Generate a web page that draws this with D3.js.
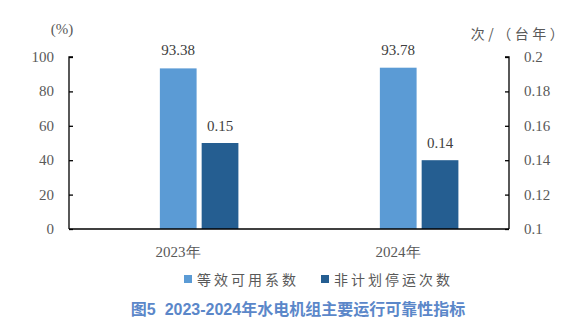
<!DOCTYPE html>
<html>
<head>
<meta charset="utf-8">
<script src="https://cdn.jsdelivr.net/npm/d3@7"></script>
<style>
  html, body { margin: 0; padding: 0; background: #fff; }
  svg { display: block; }
</style>
</head>
<body>
<svg id="chart" width="585" height="335"></svg>
<script>
// Hydropower unit reliability indicators, 2023–2024
const categories = ["2023年", "2024年"];
const availability = [93.38, 93.78];      // 等效可用系数 (%)
const outages = [0.15, 0.14];             // 非计划停运次数 次/(台年)
const leftTicks = [0, 20, 40, 60, 80, 100];
const rightTicks = [0.1, 0.12, 0.14, 0.16, 0.18, 0.2];
const seriesNames = ["等效可用系数", "非计划停运次数"];
const colors = ["#5b9bd5", "#255e91"];

const svg = d3.select("#chart");
const plotL = 69, plotR = 509, plotT = 57, plotB = 229;
const numFont = "'Liberation Serif', 'DejaVu Serif', serif";
const cjkFont = "'Noto Sans CJK SC', sans-serif";
const textColor = "#595959";

const x = d3.scaleBand().domain(categories).range([plotL, plotR]);
const yL = d3.scaleLinear().domain([0, 100]).range([plotB, plotT]);
const yR = d3.scaleLinear().domain([0.1, 0.2]).range([plotB, plotT]);

// bar placement within each category band
const bw = x.bandwidth();
const barW = bw * 0.167;
const lightOff = bw * 0.413;
const darkOff = bw * 0.603;

// bars
svg.selectAll("rect.avail").data(availability).join("rect")
  .attr("class", "avail")
  .attr("x", (d, i) => x(categories[i]) + lightOff)
  .attr("y", d => yL(d))
  .attr("width", barW)
  .attr("height", d => plotB - yL(d))
  .attr("fill", colors[0]);

svg.selectAll("rect.outage").data(outages).join("rect")
  .attr("class", "outage")
  .attr("x", (d, i) => x(categories[i]) + darkOff)
  .attr("y", d => yR(d))
  .attr("width", barW)
  .attr("height", d => plotB - yR(d))
  .attr("fill", colors[1]);

// value labels
svg.selectAll("text.lblA").data(availability).join("text")
  .attr("class", "lblA")
  .attr("x", (d, i) => x(categories[i]) + lightOff + barW / 2)
  .attr("y", d => yL(d) - 13)
  .attr("text-anchor", "middle")
  .attr("font-family", numFont).attr("font-size", 15).attr("fill", "#404040")
  .text(d => d.toFixed(2));

svg.selectAll("text.lblO").data(outages).join("text")
  .attr("class", "lblO")
  .attr("x", (d, i) => x(categories[i]) + darkOff + barW / 2)
  .attr("y", d => yR(d) - 12)
  .attr("text-anchor", "middle")
  .attr("font-family", numFont).attr("font-size", 15).attr("fill", "#404040")
  .text(d => d.toFixed(2));

// left axis
const axL = svg.append("g").attr("transform", `translate(${plotL},0)`)
  .call(d3.axisRight(yL).tickValues(leftTicks).tickSize(4).tickFormat(d3.format("d")));
axL.selectAll("text").remove();
axL.selectAll("path, line").attr("stroke", "#000").attr("stroke-width", 1.3);
axL.select("path").attr("d", `M4,${plotT}H0V${plotB}`);
svg.selectAll("text.tl").data(leftTicks).join("text")
  .attr("class", "tl")
  .attr("x", plotL - 15).attr("y", d => yL(d) + 5)
  .attr("text-anchor", "end")
  .attr("font-family", numFont).attr("font-size", 15).attr("fill", textColor)
  .text(d => d);

// right axis
const axR = svg.append("g").attr("transform", `translate(${plotR},0)`)
  .call(d3.axisLeft(yR).tickValues(rightTicks).tickSize(4));
axR.selectAll("text").remove();
axR.selectAll("path, line").attr("stroke", "#000").attr("stroke-width", 1.3);
axR.select("path").attr("d", `M-4,${plotT}H0V${plotB}`);
svg.selectAll("text.tr").data(rightTicks).join("text")
  .attr("class", "tr")
  .attr("x", plotR + 15).attr("y", d => yR(d) + 5)
  .attr("text-anchor", "start")
  .attr("font-family", numFont).attr("font-size", 15).attr("fill", textColor)
  .text(d => d3.format("~g")(d));

// baseline
svg.append("line")
  .attr("x1", plotL).attr("x2", plotR).attr("y1", plotB).attr("y2", plotB)
  .attr("stroke", "#000").attr("stroke-width", 1.3);

// category labels
svg.selectAll("text.cat").data(categories).join("text")
  .attr("class", "cat")
  .attr("x", d => x(d) + bw / 2 - 1)
  .attr("y", plotB + 28)
  .attr("text-anchor", "middle")
  .attr("font-family", numFont).attr("font-size", 15).attr("fill", textColor)
  .text(d => d);

// axis units
svg.append("text").attr("x", 62).attr("y", 34).attr("text-anchor", "middle")
  .attr("font-family", numFont).attr("font-size", 15).attr("fill", textColor)
  .text("(%)");
svg.append("text").attr("x", 519).attr("y", 39).attr("text-anchor", "middle")
  .attr("font-family", cjkFont).attr("font-size", 14).attr("fill", textColor)
  .attr("letter-spacing", 3.5)
  .text("次/（台年）");

// legend
const legend = svg.append("g");
const legendX = [184, 321];
seriesNames.forEach((name, i) => {
  legend.append("rect").attr("x", legendX[i]).attr("y", 275)
    .attr("width", 8).attr("height", 8).attr("fill", colors[i]);
  legend.append("text").attr("x", legendX[i] + 13).attr("y", 285)
    .attr("font-family", cjkFont).attr("font-size", 14).attr("fill", textColor)
    .attr("letter-spacing", 3)
    .text(name);
});

// caption
svg.append("text").attr("x", 298).attr("y", 315).attr("text-anchor", "middle")
  .attr("font-family", "'Liberation Sans', Arial, 'Noto Sans CJK SC', sans-serif")
  .attr("font-weight", "bold").attr("font-size", 16).attr("fill", "#5b87c9")
  .style("white-space", "pre")
  .text("图5  2023-2024年水电机组主要运行可靠性指标");
</script>
</body>
</html>
